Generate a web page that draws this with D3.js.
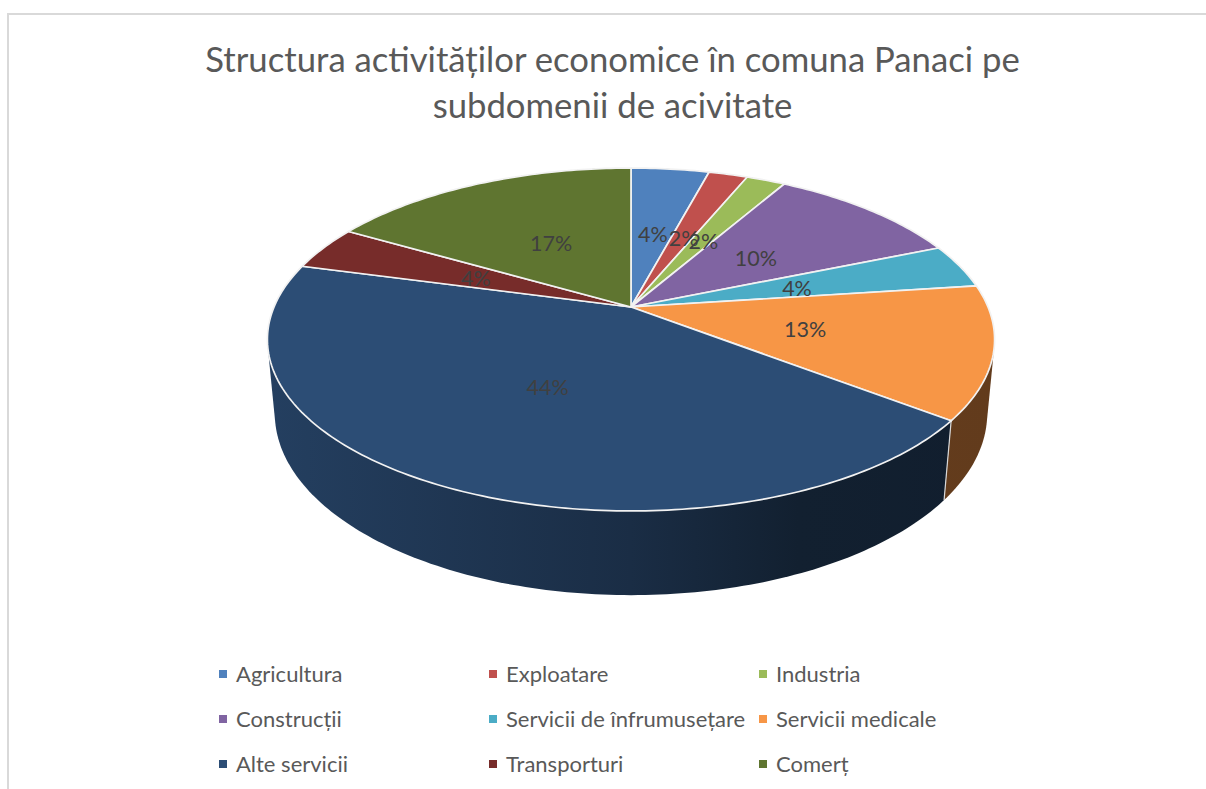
<!DOCTYPE html>
<html><head><meta charset="utf-8">
<script src="https://cdnjs.cloudflare.com/ajax/libs/d3/7.8.5/d3.min.js"></script>
<style>html,body{margin:0;padding:0;background:#fff}svg{display:block}text{font-family:Lato,"Open Sans",sans-serif}</style>
</head><body><svg id="c" width="1206" height="789"></svg>
<script>
const titleLines = ["Structura activităților economice în comuna Panaci pe", "subdomenii de acivitate"];
const categories = ["Agricultura","Exploatare","Industria","Construcții","Servicii de înfrumusețare","Servicii medicale","Alte servicii","Transporturi","Comerț"];
const shares = [4.17,2.08,2.08,10.42,4.17,12.5,43.75,4.17,16.67];
const colors = ["#4f81bd","#c0504d","#9bbb59","#8064a2","#4bacc6","#f79646","#2c4d75","#772c2a","#5f7530"];

const svg = d3.select("#c");
const W = 1206, H = 789;
svg.append("rect").attr("width",W).attr("height",H).attr("fill","#fff");
svg.append("path").attr("d",`M8,${H}V14H${W}`).attr("fill","none").attr("stroke","#d9d9d9").attr("stroke-width",2);

// perspective projection of the unit disc (u right, v away, z down)
const cx = 631, cy = 307, c = 357, b = 165.3, k = 0.1895, m = 0.02, d = -74;
function project(u, v, z) {
  const w = 1 + k*v + m*z;
  return [cx + c*u/w, cy - (b*v + d*z)/w];
}
const polar = (a, r, z) => project(r*Math.sin(a), r*Math.cos(a), z);
const pie = d3.pie().sort(null).value(v => v);
const arcs = pie(shares);
const color = d3.scaleOrdinal().domain(categories).range(colors);
const line = d3.line();
const sample = (a0, a1) => d3.range(0, 1.0001, 1/Math.max(4, Math.ceil((a1-a0)*60))).map(t => a0 + (a1-a0)*t);

// wall shading: darkness grows left to right
const xShade = d3.scaleLinear().domain([0,0.5,0.73,1]).range([0.55,1.5,2.5,2.6]);
const defs = svg.append("defs");
arcs.forEach((s,i) => {
  const g = defs.append("linearGradient").attr("id","w"+i).attr("gradientUnits","userSpaceOnUse")
    .attr("x1",cx-364).attr("x2",cx+364).attr("y1",0).attr("y2",0);
  xShade.domain().forEach(o => g.append("stop").attr("offset",o).attr("stop-color",d3.color(colors[i]).darker(xShade(o)).formatHex()));
});

// walls: hull of the upper and lower rim, the top faces cover what lies above the rim
svg.append("g").selectAll("path").data(arcs).join("path")
  .attr("d", s => {
    const as = sample(s.startAngle, s.endAngle);
    return line(d3.polygonHull(as.map(a => polar(a,1,0)).concat(as.map(a => polar(a,1,1))))) + "Z";
  })
  .attr("fill",(s,i)=>`url(#w${i})`);
// seams between visible walls
svg.append("g").selectAll("line").data(arcs.filter(s => Math.cos(s.startAngle) < -0.3 && Math.sin(s.startAngle) > 0))
  .join("line")
  .attr("x1",s=>polar(s.startAngle,1,0)[0]).attr("y1",s=>polar(s.startAngle,1,0)[1])
  .attr("x2",s=>polar(s.startAngle,1,1)[0]).attr("y2",s=>polar(s.startAngle,1,1)[1])
  .attr("stroke","#d9d9d9").attr("stroke-width",1.2);

// top faces
svg.append("g").selectAll("path").data(arcs).join("path")
  .attr("d", s => {
    const pts = [[cx,cy]].concat(sample(s.startAngle, s.endAngle).map(a => polar(a,1,0)));
    return line(pts) + "Z";
  })
  .attr("fill",(s,i)=>colors[i]).attr("stroke","#f2f2f2").attr("stroke-width",1.7).attr("stroke-linejoin","round");

// data labels
svg.append("g").selectAll("text").data(arcs).join("text")
  .attr("x", s => polar((s.startAngle+s.endAngle)/2, 0.49, 0)[0] + 1)
  .attr("y", s => polar((s.startAngle+s.endAngle)/2, 0.49, 0)[1] + 1)
  .attr("text-anchor","middle").attr("dominant-baseline","central")
  .attr("font-size",21.5).attr("fill","#404040")
  .text(s => Math.round(s.value) + "%");

// title
const titleY = d3.scalePoint().domain(titleLines).range([58,104]);
svg.append("g").selectAll("text").data(titleLines).join("text")
  .attr("x",612.5).attr("y",l=>titleY(l)).attr("dominant-baseline","central").attr("text-anchor","middle")
  .attr("font-size",34.7).attr("fill","#595959").text(l=>l);

// legend
const colX = d3.scalePoint().domain([0,1,2]).range([223,763]);
const rowY = d3.scalePoint().domain([0,1,2]).range([674,764]);
const lg = svg.append("g").selectAll("g").data(categories).join("g")
  .attr("transform",(n,i)=>`translate(${colX(i%3)},${rowY(Math.floor(i/3))})`);
lg.append("rect").attr("x",-4).attr("y",-4).attr("width",8).attr("height",8).attr("fill",n=>color(n));
lg.append("text").attr("x",13).attr("y",-1).attr("dominant-baseline","central").attr("font-size",22).attr("fill","#595959").text(n=>n);
</script></body></html>
